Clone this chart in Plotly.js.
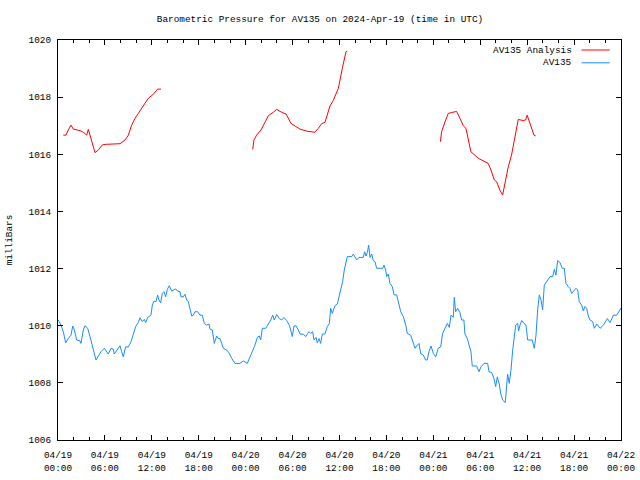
<!DOCTYPE html>
<html>
<head>
<meta charset="utf-8">
<script src="https://cdn.plot.ly/plotly-3.0.1.min.js"></script>
<style>html,body{margin:0;padding:0;background:#fff;}#chart{width:640px;height:480px;}</style>
</head>
<body>
<div id="chart"></div>
<script>
// Start of time axis (UTC)
const startTime = "2024-04-19T00:00:00Z";
const endTime = "2024-04-22T00:00:00Z";

// AV135 Analysis: hours since start, pressure (mb); null separates gaps
const analysisHours = [0.68,1.02,1.32,1.66,1.96,2.39,2.81,3.24,3.67,3.88,4.09,4.39,4.73,5.16,5.67,6.22,7.93,8.57,9.0,9.42,9.85,10.27,10.78,11.55,12.19,12.74,13.17,
  null,
  24.9,25.06,25.4,25.96,26.47,26.9,27.53,27.96,28.6,29.16,29.8,30.3,30.95,31.8,32.86,33.29,33.72,34.14,34.78,35.2,35.85,36.36,36.83,37.0,
  null,
  48.9,49.06,49.5,49.9,50.3,50.98,51.4,51.83,52.17,52.8,53.75,54.4,55.02,55.37,55.8,56.1,56.5,56.86,57.16,57.58,58.0,58.3,58.86,59.5,59.8,60.0,60.36,60.87,61.1];
const analysisPressure = [1016.67,1016.67,1016.85,1017.02,1016.88,1016.85,1016.83,1016.77,1016.67,1016.87,1016.67,1016.38,1016.06,1016.15,1016.33,1016.35,1016.37,1016.5,1016.67,1017.02,1017.26,1017.43,1017.63,1017.96,1018.1,1018.28,1018.28,
  null,
  1016.17,1016.5,1016.67,1016.85,1017.12,1017.35,1017.47,1017.57,1017.47,1017.41,1017.08,1017.0,1016.88,1016.81,1016.77,1016.91,1017.07,1017.12,1017.69,1017.88,1018.31,1019.01,1019.59,1019.61,
  null,
  1016.44,1016.79,1017.14,1017.43,1017.46,1017.5,1017.26,1017.0,1016.91,1016.09,1015.86,1015.78,1015.68,1015.45,1015.1,1015.04,1014.75,1014.57,1014.98,1015.56,1015.97,1016.38,1017.22,1017.18,1017.2,1017.37,1017.08,1016.67,1016.64];

// AV135 observed: hours since start, pressure (mb)
const obsHours = [0.04,0.38,0.68,0.98,1.32,1.66,1.88,2.09,2.39,2.81,2.94,3.24,3.45,3.8,4.09,4.39,4.65,4.86,5.16,5.5,5.92,6.22,6.43,6.78,7.08,7.2,7.5,7.93,8.14,8.35,8.65,9.0,9.34,9.63,9.93,10.27,10.49,10.78,11.04,11.21,11.47,11.89,12.06,12.28,12.53,12.74,12.91,13.13,13.34,13.55,13.77,13.98,14.23,14.54,14.87,15.05,15.3,15.6,15.73,16.02,16.24,16.46,16.67,16.88,17.1,17.31,17.52,17.86,18.16,18.45,18.71,19.02,19.31,19.44,19.73,19.99,20.29,20.5,20.72,20.93,21.14,21.57,21.87,22.21,22.63,23.27,23.7,24.2,24.55,24.9,25.19,25.49,25.75,25.92,26.13,26.56,26.9,27.2,27.46,27.66,27.97,28.3,28.6,28.9,29.25,29.58,29.76,29.96,30.18,30.43,30.73,30.95,31.37,31.71,31.93,32.1,32.31,32.57,32.74,33.0,33.16,33.38,33.59,33.8,34.14,34.44,34.7,34.87,35.08,35.42,35.72,35.93,36.19,36.4,36.61,36.83,37.0,37.56,37.77,38.2,38.49,39.04,39.22,39.39,39.56,39.73,39.9,40.11,40.32,40.54,40.75,41.52,41.69,41.9,42.03,42.24,42.46,42.75,42.97,43.31,43.52,43.83,44.16,44.47,44.67,45.1,45.31,45.65,45.87,46.16,46.38,46.71,47.02,47.22,47.44,47.7,48.0,48.3,48.63,48.94,49.19,49.49,49.79,50.04,50.26,50.55,50.68,50.85,51.11,51.4,51.62,51.91,52.04,52.34,52.59,52.81,52.98,53.54,53.84,54.09,54.48,54.95,55.12,55.46,55.75,55.97,56.18,56.43,56.61,56.86,57.2,57.38,57.5,57.71,57.93,58.14,58.31,58.53,58.78,58.91,59.08,59.3,59.59,59.85,60.06,60.36,60.65,60.91,61.13,61.34,61.55,61.77,61.98,62.19,62.5,62.7,62.92,63.26,63.47,63.68,63.9,64.2,64.49,64.75,64.96,65.26,65.47,65.69,65.98,66.24,66.46,66.66,66.97,67.18,67.39,67.61,67.82,68.03,68.38,68.59,68.9,69.32,69.75,70.26,70.6,71.04,71.46,71.88,72.0];
const obsPressure = [1010.2,1010.02,1009.79,1009.4,1009.55,1009.67,1009.99,1009.85,1009.5,1009.47,1009.38,1009.85,1010.0,1009.91,1009.62,1009.26,1008.97,1008.8,1008.94,1009.09,1009.21,1009.09,1009.01,1009.21,1009.18,1009.01,1009.15,1009.3,1009.09,1008.91,1009.26,1009.26,1009.44,1009.73,1009.97,1010.11,1010.28,1010.14,1010.22,1010.11,1010.29,1010.37,1010.72,1010.86,1010.84,1011.07,1010.9,1010.8,1011.13,1011.19,1011.01,1011.27,1011.4,1011.21,1011.25,1011.29,1011.21,1011.19,1011.01,1011.01,1011.1,1010.9,1010.84,1010.61,1010.34,1010.37,1010.49,1010.49,1010.37,1010.37,1010.08,1010.02,1010.06,1009.88,1009.85,1009.38,1009.64,1009.55,1009.55,1009.38,1009.21,1009.15,1009.05,1008.86,1008.68,1008.68,1008.77,1008.68,1008.91,1009.09,1009.32,1009.59,1009.64,1009.5,1009.91,1009.91,1010.06,1010.2,1010.37,1010.2,1010.39,1010.25,1010.2,1010.29,1010.18,1010.02,1009.85,1009.62,1009.99,1010.0,1009.85,1009.71,1009.7,1009.62,1009.73,1009.79,1009.73,1009.79,1009.5,1009.59,1009.4,1009.55,1009.38,1009.71,1009.71,1009.97,1010.08,1010.61,1010.43,1010.7,1010.76,1011.01,1011.25,1011.54,1011.95,1012.24,1012.42,1012.42,1012.51,1012.3,1012.39,1012.39,1012.59,1012.44,1012.56,1012.82,1012.39,1012.51,1012.28,1012.24,1012.01,1012.01,1012.12,1011.95,1011.72,1011.81,1011.48,1011.37,1011.08,1011.08,1010.84,1010.49,1010.32,1010.02,1009.73,1009.67,1009.5,1009.21,1009.29,1009.38,1009.03,1008.97,1008.8,1008.8,1009.09,1009.29,1009.03,1008.91,1009.21,1009.26,1009.73,1009.91,1010.08,1009.94,1010.37,1010.29,1010.99,1010.49,1010.61,1010.46,1010.2,1010.2,1009.71,1009.55,1009.26,1009.09,1008.59,1008.59,1008.39,1008.56,1008.68,1008.68,1008.39,1008.36,1008.16,1007.87,1008.21,1007.96,1007.63,1007.4,1007.31,1008.04,1008.3,1007.98,1008.45,1009.12,1009.5,1010.02,1010.08,1009.82,1010.02,1010.18,1010.08,1010.02,1009.5,1009.5,1009.5,1009.21,1009.67,1010.55,1011.08,1010.9,1010.55,1011.42,1011.54,1011.6,1011.72,1011.72,1011.97,1011.77,1012.28,1012.21,1012.01,1012.01,1011.48,1011.37,1011.31,1011.13,1011.25,1011.31,1011.25,1010.84,1010.72,1010.52,1010.67,1010.61,1010.34,1010.2,1010.14,1009.91,1010.06,1009.91,1010.02,1010.25,1010.11,1010.37,1010.37,1010.55,1010.62];

const seriesNames = ["AV135 Analysis", "AV135"];
const seriesColors = ["#ff0000", "#1a8cff"];
const titleText = "Barometric Pressure for AV135 on 2024-Apr-19 (time in UTC)";
const yTitle = "milliBars";

const t0 = Date.parse(startTime);
const toTime = h => (h === null ? null : new Date(t0 + h * 3600000).toISOString());

const font = {family: "Liberation Mono, DejaVu Sans Mono, monospace", size: 9.4, color: "#000"};

const traces = [
  {x: analysisHours.map(toTime), y: analysisPressure, type: "scatter", mode: "lines",
   name: seriesNames[0], line: {color: seriesColors[0], width: 1}, connectgaps: false, showlegend: false},
  {x: obsHours.map(toTime), y: obsPressure, type: "scatter", mode: "lines",
   name: seriesNames[1], line: {color: seriesColors[1], width: 1, shape: "linear"}, showlegend: false}
];

const legendY = [0.975, 0.943];
const annotations = seriesNames.map((n, i) => ({
  xref: "paper", yref: "paper", x: 0.917, y: legendY[i], xanchor: "right", yanchor: "middle",
  text: n, showarrow: false, font: font
}));
const shapes = seriesColors.map((c, i) => ({
  type: "line", xref: "paper", yref: "paper", x0: 0.930, x1: 0.98, y0: legendY[i], y1: legendY[i],
  line: {color: c, width: 1}
}));

const layout = {
  width: 640, height: 480,
  margin: {l: 58, r: 19, t: 40, b: 40},
  paper_bgcolor: "#fff", plot_bgcolor: "#fff",
  font: font,
  title: {text: titleText, font: font, x: 0.5, xanchor: "center", y: 0.96, yanchor: "middle"},
  xaxis: {
    type: "date", range: [startTime.replace("Z",""), endTime.replace("Z","")],
    dtick: 6 * 3600000, tick0: startTime.replace("Z",""), tickformat: "%m/%d<br>%H:%M",
    ticks: "inside", ticklen: 5, tickcolor: "#000", tickwidth: 1,
    minor: {dtick: 2 * 3600000, ticks: "inside", ticklen: 3, tickcolor: "#000", showgrid: false},
    showline: true, linecolor: "#000", linewidth: 1, mirror: "ticks",
    showgrid: false, zeroline: false, tickfont: font, ticklabelstandoff: 6
  },
  yaxis: {
    range: [1006, 1020], dtick: 2, tick0: 1006,
    ticks: "inside", ticklen: 5, tickcolor: "#000", tickwidth: 1,
    showline: true, linecolor: "#000", linewidth: 1, mirror: "ticks",
    showgrid: false, zeroline: false, tickfont: font, ticklabelstandoff: 4,
    title: {text: yTitle, font: font, standoff: 14}
  },
  annotations: annotations,
  shapes: shapes,
  showlegend: false
};

Plotly.newPlot("chart", traces, layout, {displayModeBar: false, staticPlot: true});
</script>
</body>
</html>
